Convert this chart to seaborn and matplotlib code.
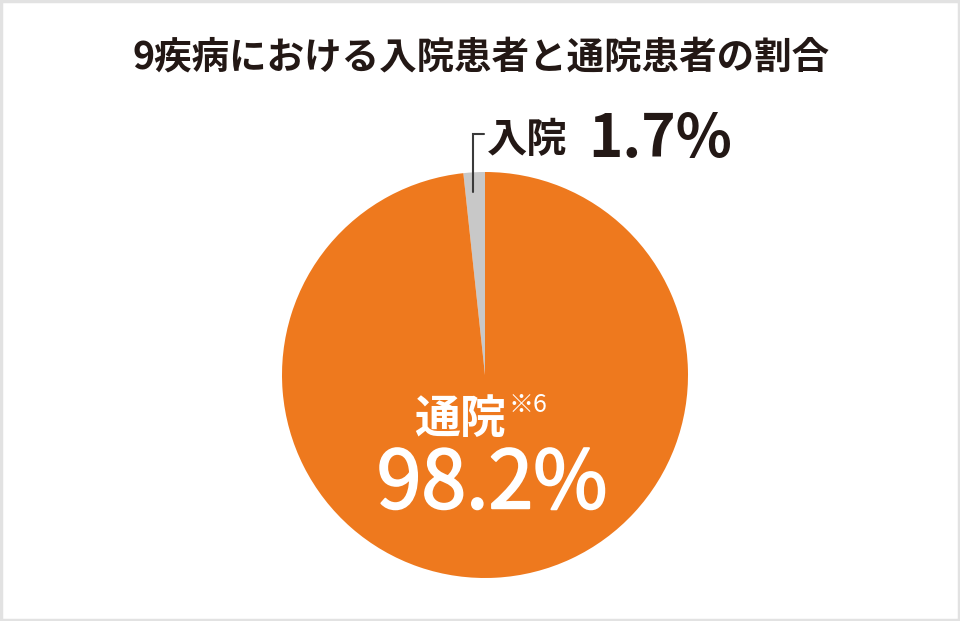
import matplotlib
matplotlib.use("Agg")
import matplotlib.pyplot as plt
import matplotlib.patheffects as pe
import seaborn as sns
from matplotlib.patches import Rectangle

sns.set_theme(style="white")
plt.rcParams["font.family"] = ["Noto Sans CJK JP", "DejaVu Sans"]

title = "9疾病における入院患者と通院患者の割合"
labels = ["入院", "通院"]
values = [1.7, 98.2]
colors = ["#c8c8c8", "#ee791e"]
text_dark = "#231815"

fig = plt.figure(figsize=(9.6, 6.21), dpi=100)
fig.patch.set_facecolor("white")
ax = fig.add_axes([0, 0, 1, 1])

# pie in pixel-like coordinates
ax.pie(values, colors=colors, startangle=90, counterclock=True,
       center=(485, 246), radius=203, wedgeprops=dict(linewidth=0))
ax.set_xlim(0, 960)
ax.set_ylim(0, 621)
ax.set_aspect("equal")
ax.axis("off")

# border
fig.patches.append(Rectangle((0.001, 0.0015), 0.998, 0.997, transform=fig.transFigure,
                             fill=False, edgecolor="#e2e2e2", linewidth=2.5))

ax.text(481, 564, title, ha="center", va="center", fontsize=27,
        fontweight="bold", color=text_dark)

# leader line for small slice
ax.plot([473, 473, 484], [429, 487, 487], color="#3a3a3a", linewidth=1.5,
        solid_joinstyle="miter")
ax.text(487, 480, labels[0], ha="left", va="center", fontsize=29,
        fontweight="bold", color=text_dark)
ax.text(588, 481, f"{values[0]}%", ha="left", va="center", fontsize=42,
        fontweight="bold", color=text_dark)

ax.text(460, 201, labels[1], ha="center", va="center", fontsize=33,
        fontweight="bold", color="white")
ax.text(508, 216, "※6", ha="left", va="center", fontsize=18,
        color="white")
# medium-weight look: regular glyphs with a thin white outline
ax.text(492, 136, f"{values[1]}%", ha="center", va="center", fontsize=58,
        color="white",
        path_effects=[pe.withStroke(linewidth=1.4, foreground="white")])

fig.savefig("out.png", dpi=100, facecolor="white")
